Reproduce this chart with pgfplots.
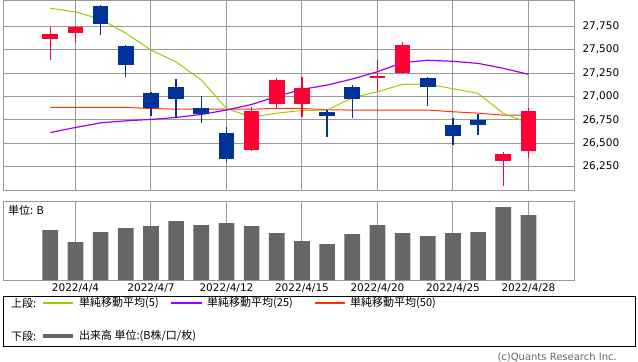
\documentclass[border=0pt]{standalone}
\usepackage{fontspec}
\setmainfont{DejaVu Sans}
\newfontfamily\jp{Noto Sans CJK JP}
\usepackage{pgfplots}
\usepackage{pgfplotstable}
\pgfplotsset{compat=1.18}
\definecolor{cred}{HTML}{FF0033}
\definecolor{cblue}{HTML}{003399}
\definecolor{cma5}{HTML}{99CC00}
\definecolor{cma25}{HTML}{9900FF}
\definecolor{cma50}{HTML}{FF3300}
\definecolor{cvol}{HTML}{666666}
\definecolor{gridc}{HTML}{999999}
\newcommand\fs{\fontsize{10.5bp}{12bp}\selectfont}
\newcommand\jfs{\jp\fontsize{11bp}{13bp}\selectfont}

% up candles (red): index open high low close
\pgfplotstableread{
i o h l c
0 27618 27746 27389 27668
1 27682 27748 27575 27739
8 26429 26889 26415 26843
9 26921 27196 26871 27175
10 26921 27207 26779 27089
13 27196 27389 27057 27218
14 27253 27582 27239 27553
18 26307 26407 26040 26382
19 26415 26879 26343 26843
}\upt
% down candles (blue)
\pgfplotstableread{
i o h l c
2 27967 27975 27660 27775
3 27539 27550 27211 27339
4 27032 27043 26789 26875
5 27100 27186 26764 26975
6 26875 27004 26718 26814
7 26607 26672 26300 26332
11 26832 26854 26568 26789
12 27100 27121 26771 26971
15 27196 27211 26896 27104
16 26693 26771 26479 26575
17 26747 26807 26586 26693
}\downt
% moving averages
\pgfplotstableread{
i ma5 ma25 ma50
0 27942 26614 26882
1 27903 26668 26882
2 27825 26718 26882
3 27675 26739 26882
4 27496 26754 26871
5 27368 26775 26864
6 27175 26807 26864
7 26871 26854 26864
8 26779 26914 26864
9 26821 27000 26871
10 26850 27075 26871
11 26854 27121 26857
12 26986 27186 26854
13 27050 27264 26854
14 27129 27361 26854
15 27132 27386 26854
16 27082 27375 26836
17 27032 27353 26821
18 26818 27300 26800
19 26718 27236 26800
}\mat
% volume (relative units)
\pgfplotstableread{
i v
0 50
1 38
2 48
3 52
4 54
5 59
6 55
7 57
8 54
9 47
10 39
11 36
12 46
13 55
14 47
15 44
16 47
17 48
18 73
19 65
}\volt

\begin{document}
\begin{tikzpicture}
\path[use as bounding box] (0bp,0bp) rectangle (638bp,-362bp);

\begin{axis}[
  at={(3bp,-190bp)}, anchor=south west,
  scale only axis, width=571bp, height=190bp,
  xmin=-1.88, xmax=20.81, ymin=26000, ymax=28030,
  xtick={1,4,7,10,13,16,19}, xticklabels={},
  ytick={26250,26500,26750,27000,27250,27500,27750},
  scaled y ticks=false,
  yticklabel pos=right,
  grid=major,
  major grid style={gridc, line width=1bp},
  axis line style={gridc, line width=1bp},
  major tick length=0pt,
  yticklabel style={font=\fs, xshift=5bp,
    /pgf/number format/.cd, fixed, 1000 sep={,}, assume math mode=true},
  clip=false,
]
\addplot[cma50, line width=1bp, mark=none] table[x=i, y=ma50] {\mat};
\addplot[cma5, line width=1bp, mark=none] table[x=i, y=ma5] {\mat};
\addplot[cma25, line width=1.2bp, mark=none] table[x=i, y=ma25] {\mat};
% wicks
\addplot[draw=none, mark=none, error bars/.cd, y dir=plus, y explicit,
  error mark=none, error bar style={line width=1.3bp, draw=cred}]
  table[x=i, y=l, y error expr=\thisrow{h}-\thisrow{l}] {\upt};
\addplot[draw=none, mark=none, error bars/.cd, y dir=plus, y explicit,
  error mark=none, error bar style={line width=1.3bp, draw=cblue}]
  table[x=i, y=l, y error expr=\thisrow{h}-\thisrow{l}] {\downt};
% bodies
\addplot[draw=none, mark=none, error bars/.cd, y dir=plus, y explicit,
  error mark=none, error bar style={line width=15.7bp, draw=cred}]
  table[x=i, y=o, y error expr=\thisrow{c}-\thisrow{o}] {\upt};
\addplot[draw=none, mark=none, error bars/.cd, y dir=plus, y explicit,
  error mark=none, error bar style={line width=15.7bp, draw=cblue}]
  table[x=i, y=c, y error expr=\thisrow{o}-\thisrow{c}] {\downt};
\end{axis}

\begin{axis}[
  at={(3bp,-280bp)}, anchor=south west,
  scale only axis, width=571bp, height=79bp,
  xmin=-1.88, xmax=20.81, ymin=0, ymax=79,
  xtick={1,4,7,10,13,16,19},
  xticklabels={2022/4/4,2022/4/7,2022/4/12,2022/4/15,2022/4/20,2022/4/25,2022/4/28},
  ytick=\empty,
  xmajorgrids,
  major grid style={gridc, line width=1bp},
  axis line style={gridc, line width=1bp},
  major tick length=0pt,
  xticklabel style={font=\fs},
  ybar, bar width=15.7bp,
]
\addplot[fill=cvol, draw=none] table[x=i, y=v] {\volt};
\end{axis}

\node[anchor=west, inner sep=0pt] at (8bp,-210bp) {\jfs 単位: B};

% legend
\draw[black, line width=0.8bp] (3.5bp,-296bp) rectangle (635bp,-346bp);
\node[anchor=west, inner sep=0pt] at (11bp,-303bp) {\jfs 上段:};
\draw[cma5, line width=1.2bp] (43bp,-303bp) -- (73bp,-303bp);
\node[anchor=west, inner sep=0pt] at (79bp,-303bp) {\jfs 単純移動平均(5)};
\draw[cma25, line width=1.2bp] (171bp,-303bp) -- (202bp,-303bp);
\node[anchor=west, inner sep=0pt] at (207bp,-303bp) {\jfs 単純移動平均(25)};
\draw[cma50, line width=1.2bp] (315bp,-303bp) -- (345bp,-303bp);
\node[anchor=west, inner sep=0pt] at (350bp,-303bp) {\jfs 単純移動平均(50)};
\node[anchor=west, inner sep=0pt] at (11bp,-336bp) {\jfs 下段:};
\draw[cvol, line width=3.2bp] (43bp,-336bp) -- (73bp,-336bp);
\node[anchor=west, inner sep=0pt] at (79bp,-336bp) {\jfs 出来高 単位:(B株/口/枚)};

\node[anchor=east, inner sep=0pt, text=cvol] at (617bp,-357bp) {\fontsize{10bp}{12bp}\selectfont (c)Quants Research Inc.};
\end{tikzpicture}
\end{document}
